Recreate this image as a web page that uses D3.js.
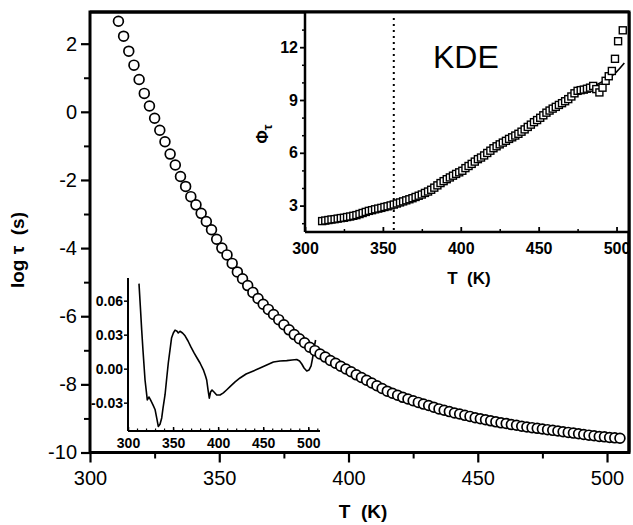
<!DOCTYPE html>
<html><head><meta charset="utf-8">
<script src="https://cdn.jsdelivr.net/npm/d3@7"></script>
<style>body{margin:0;background:#fff}svg{display:block}text{font-family:"Liberation Sans",Arial,sans-serif;fill:#000}</style>
</head><body>
<svg id="c" width="633" height="525"></svg>
<script>
// ---- main series: log tau vs T ----
const mainT = [311,313,315,317,319,321,323,325,327,329,331,333,335,337,339,341,343,345,347,349,351,353,355,357,359,361,363,365,367,369,371,373,375,377,379,381,383,385,387,389,391,393,395,397,399,401,403,405,407,409,411,413,415,417,419,421,423,425,427,429,431,433,435,437,439,441,443,445,447,449,451,453,455,457,459,461,463,465,467,469,471,473,475,477,479,481,483,485,487,489,491,493,495,497,499,501,503,505];
const mainLogTau = [2.66,2.22,1.78,1.37,0.95,0.54,0.17,-0.19,-0.54,-0.88,-1.24,-1.56,-1.90,-2.19,-2.49,-2.73,-2.98,-3.22,-3.46,-3.74,-4.00,-4.20,-4.45,-4.70,-4.90,-5.10,-5.30,-5.48,-5.65,-5.80,-5.95,-6.10,-6.25,-6.40,-6.54,-6.66,-6.78,-6.91,-7.01,-7.11,-7.20,-7.30,-7.38,-7.47,-7.55,-7.63,-7.72,-7.80,-7.88,-7.96,-8.04,-8.12,-8.20,-8.26,-8.32,-8.38,-8.43,-8.48,-8.53,-8.58,-8.62,-8.67,-8.72,-8.76,-8.80,-8.84,-8.87,-8.91,-8.94,-8.98,-9.01,-9.04,-9.07,-9.10,-9.13,-9.15,-9.18,-9.20,-9.23,-9.25,-9.27,-9.29,-9.31,-9.33,-9.35,-9.37,-9.39,-9.41,-9.43,-9.45,-9.47,-9.49,-9.51,-9.53,-9.54,-9.56,-9.57,-9.58];
const mainXTicks = [300,350,400,450,500];
const mainXTickLabels = ["300","350","400","450","500"];
const mainYTicks = [-10,-8,-6,-4,-2,0,2];
const mainYTickLabels = ["-10","-8","-6","-4","-2","0","2"];

// ---- inset 1 (KDE): Phi_tau vs T ----
const phiT = [311,313,315,317,319,321,323,325,327,329,331,333,335,337,339,341,343,345,347,349,351,353,355,357,359,361,363,365,367,369,371,373,375,377,379,381,383,385,387,389,391,393,395,397,399,401,403,405,407,409,411,413,415,417,419,421,423,425,427,429,431,433,435,437,439,441,443,445,447,449,451,453,455,457,459,461,463,465,467,469,471,473,475,477,479,481,483,485,487,489,491,493,495,497,499,501,504];
const phiVals = [2.12,2.15,2.18,2.21,2.23,2.26,2.29,2.31,2.35,2.38,2.42,2.46,2.52,2.58,2.64,2.70,2.74,2.79,2.83,2.87,2.92,2.96,3.01,3.06,3.12,3.18,3.24,3.30,3.36,3.42,3.49,3.56,3.63,3.72,3.80,3.90,4.02,4.15,4.28,4.39,4.50,4.60,4.70,4.80,4.89,4.98,5.13,5.25,5.37,5.50,5.64,5.73,5.85,5.99,6.12,6.26,6.37,6.48,6.58,6.68,6.79,6.88,6.98,7.08,7.20,7.33,7.47,7.60,7.74,7.86,7.99,8.13,8.28,8.40,8.51,8.61,8.72,8.82,8.93,9.05,9.20,9.38,9.52,9.56,9.59,9.64,9.70,9.80,9.62,9.43,9.70,10.09,10.35,10.65,11.34,12.34,12.96];
const fitT = [310,320,330,340,350,360,370,380,390,400,410,420,430,440,450,460,470,480,490,500,505];
const fitPhi = [2.10,2.25,2.42,2.64,2.90,3.15,3.45,3.85,4.35,4.90,5.55,6.15,6.75,7.30,7.95,8.55,9.10,9.55,10.00,10.60,11.10];
const markerT = 357;
const in1XTicks = [300,350,400,450,500];
const in1XTickLabels = ["300","350","400","450","500"];
const in1YTicks = [3,6,9,12];
const in1YTickLabels = ["3","6","9","12"];

// ---- inset 2: residual vs T ----
const resT = [312.2,313.9,315.2,316.6,318.9,321.4,323.3,325.0,327.7,330.0,332.2,333.6,335.5,337.4,338.8,341.1,343.0,344.7,346.6,348.3,350.3,352.2,354.4,355.8,357.7,360.5,363.3,366.6,369.9,373.3,376.6,379.9,383.6,386.0,387.3,388.8,390.2,391.6,393.2,395.4,398.4,402.1,405.8,409.3,413.2,418.8,424.3,431.0,439.1,446.5,453.9,461.3,468.7,476.1,482.0,487.2,490.3,492.8,495.3,498.3,500.9,503.1,504.8,506.4,508.1];
const resVals = [0.075,0.052,0.034,0.0165,-0.010,-0.0276,-0.025,-0.0276,-0.032,-0.036,-0.045,-0.051,-0.049,-0.0435,-0.035,-0.023,-0.008,0.005,0.0165,0.027,0.0315,0.034,0.033,0.0315,0.033,0.0315,0.029,0.0244,0.019,0.0139,0.0094,0.005,-0.001,-0.0064,-0.010,-0.0188,-0.026,-0.0206,-0.0188,-0.0206,-0.0232,-0.0232,-0.0214,-0.0188,-0.0159,-0.0117,-0.0082,-0.0047,-0.002,0.0006,0.0033,0.0059,0.0068,0.0071,0.0077,0.0081,0.0068,0.0041,0.0006,-0.002,-0.0011,0.0024,0.0094,0.018,0.0253];
const in2XTicks = [300,350,400,450,500];
const in2XTickLabels = ["300","350","400","450","500"];
const in2YTicks = [-0.03,0,0.03,0.06];
const in2YTickLabels = ["-0.03","0.00","0.03","0.06"];

const svg = d3.select("#c");
svg.append("rect").attr("width",633).attr("height",525).attr("fill","#fff");

function styleAxis(g, sw, fs, fw){
  g.select(".domain").remove();
  g.selectAll(".tick line").attr("stroke","#000").attr("stroke-width",sw);
  g.selectAll(".tick text").attr("font-size",fs).attr("font-weight",fw)
    .attr("font-family","'Liberation Sans',Arial,sans-serif").attr("fill","#000");
}
function lab(ticks, labels){ return d => labels[ticks.indexOf(d)]; }

// ================= MAIN =================
const x = d3.scaleLinear().domain([300,508.5]).range([90,629]);
const y = d3.scaleLinear().domain([-10,2.93]).range([452.5,12]);

const gxm = svg.append("g").attr("transform","translate(0,452.5)")
  .call(d3.axisBottom(x).tickValues([325,375,425,475]).tickSize(6).tickFormat(""));
styleAxis(gxm,2,0,"normal");
const gx = svg.append("g").attr("transform","translate(0,452.5)")
  .call(d3.axisBottom(x).tickValues(mainXTicks).tickSize(10).tickPadding(8).tickFormat(lab(mainXTicks,mainXTickLabels)));
styleAxis(gx,2.2,20,"normal");
const gym = svg.append("g").attr("transform","translate(90,0)")
  .call(d3.axisLeft(y).tickValues([-9,-7,-5,-3,-1,1]).tickSize(6).tickFormat(""));
styleAxis(gym,2,0,"normal");
const gy = svg.append("g").attr("transform","translate(90,0)")
  .call(d3.axisLeft(y).tickValues(mainYTicks).tickSize(9).tickPadding(4).tickFormat(lab(mainYTicks,mainYTickLabels)));
styleAxis(gy,2.2,20,"normal");

svg.append("rect").attr("x",90).attr("y",12).attr("width",539).attr("height",440.5)
  .attr("fill","none").attr("stroke","#000").attr("stroke-width",3);

svg.append("text").attr("x",363).attr("y",518).attr("text-anchor","middle")
  .attr("font-size",19).attr("font-weight","bold").attr("xml:space","preserve").text("T  (K)");
svg.append("text").attr("transform","translate(24,250) rotate(-90)").attr("text-anchor","middle")
  .attr("font-size",19).attr("font-weight","bold").attr("xml:space","preserve").text("log \u03C4  (s)");

// ================= INSET 2 (residual) =================
const x2 = d3.scaleLinear().domain([300,513]).range([128,320]);
const y2 = d3.scaleLinear().domain([-0.055,0.08]).range([431,278]);
const g2xm = svg.append("g").attr("transform","translate(0,431)")
  .call(d3.axisBottom(x2).tickValues(d3.range(310,511,10)).tickSize(-2.5).tickFormat(""));
styleAxis(g2xm,1.2,0,"normal");
const g2x = svg.append("g").attr("transform","translate(0,431)")
  .call(d3.axisBottom(x2).tickValues(in2XTicks).tickSize(-4).tickPadding(7).tickFormat(lab(in2XTicks,in2XTickLabels)));
styleAxis(g2x,1.5,14,"bold");
const g2y = svg.append("g").attr("transform","translate(128,0)")
  .call(d3.axisLeft(y2).tickValues(in2YTicks).tickSize(4).tickPadding(1).tickFormat(lab(in2YTicks,in2YTickLabels)));
styleAxis(g2y,1.5,14,"bold");
svg.append("line").attr("x1",128).attr("x2",128).attr("y1",278).attr("y2",431).attr("stroke","#000").attr("stroke-width",2);
svg.append("line").attr("x1",128).attr("x2",320).attr("y1",431).attr("y2",431).attr("stroke","#000").attr("stroke-width",2);
svg.append("path").datum(resT.map((t,i)=>[t,resVals[i]]))
  .attr("fill","none").attr("stroke","#000").attr("stroke-width",1.6).attr("stroke-linejoin","round")
  .attr("d", d3.line().x(d=>x2(d[0])).y(d=>y2(d[1])));

// main circles
svg.append("g").selectAll("circle").data(mainT.map((t,i)=>[t,mainLogTau[i]])).join("circle")
  .attr("cx",d=>x(d[0])).attr("cy",d=>y(d[1])).attr("r",4.9)
  .attr("fill","#fff").attr("stroke","#000").attr("stroke-width",1.7);

// ================= INSET 1 (KDE) =================
const x1 = d3.scaleLinear().domain([300,508]).range([305,629]);
const y1 = d3.scaleLinear().domain([1.5,14]).range([232,12]);
svg.append("rect").attr("x",305).attr("y",12).attr("width",324).attr("height",220).attr("fill","#fff");
const g1xm = svg.append("g").attr("transform","translate(0,232)")
  .call(d3.axisBottom(x1).tickValues([325,375,425,475]).tickSize(-3).tickFormat(""));
styleAxis(g1xm,1.5,0,"normal");
const g1x = svg.append("g").attr("transform","translate(0,232)")
  .call(d3.axisBottom(x1).tickValues(in1XTicks).tickSize(-5).tickPadding(11).tickFormat(lab(in1XTicks,in1XTickLabels)));
styleAxis(g1x,1.8,16,"bold");
const g1ym = svg.append("g").attr("transform","translate(305,0)")
  .call(d3.axisLeft(y1).tickValues([2,4,5,7,8,10,11,13]).tickSize(3).tickFormat(""));
styleAxis(g1ym,1.5,0,"normal");
const g1y = svg.append("g").attr("transform","translate(305,0)")
  .call(d3.axisLeft(y1).tickValues(in1YTicks).tickSize(5).tickPadding(2).tickFormat(lab(in1YTicks,in1YTickLabels)));
styleAxis(g1y,1.8,16,"bold");
svg.append("line").attr("x1",305).attr("x2",305).attr("y1",12).attr("y2",232).attr("stroke","#000").attr("stroke-width",2.5);
svg.append("line").attr("x1",305).attr("x2",629).attr("y1",232).attr("y2",232).attr("stroke","#000").attr("stroke-width",2.5);
svg.append("line").attr("x1",90).attr("x2",629).attr("y1",12).attr("y2",12).attr("stroke","#000").attr("stroke-width",3);
svg.append("line").attr("x1",629).attr("x2",629).attr("y1",12).attr("y2",452.5).attr("stroke","#000").attr("stroke-width",3);

svg.append("line").attr("x1",x1(markerT)).attr("x2",x1(markerT)).attr("y1",18).attr("y2",232)
  .attr("stroke","#000").attr("stroke-width",2).attr("stroke-dasharray","2,4");

svg.append("path").datum(fitT.map((t,i)=>[t,fitPhi[i]]))
  .attr("fill","none").attr("stroke","#000").attr("stroke-width",1.6)
  .attr("d", d3.line().curve(d3.curveMonotoneX).x(d=>x1(d[0])).y(d=>y1(d[1])));
const sq = 7;
svg.append("g").selectAll("rect").data(phiT.map((t,i)=>[t,phiVals[i]])).join("rect")
  .attr("x",d=>x1(d[0])-sq/2).attr("y",d=>y1(d[1])-sq/2).attr("width",sq).attr("height",sq)
  .attr("fill","#fff").attr("stroke","#000").attr("stroke-width",1.4);

svg.append("text").attr("x",433).attr("y",68).attr("font-size",32).text("KDE");
svg.append("text").attr("x",469).attr("y",284).attr("text-anchor","middle")
  .attr("font-size",17).attr("font-weight","bold").attr("xml:space","preserve").text("T  (K)");
const phiLab = svg.append("text").attr("transform","translate(268,134) rotate(-90)").attr("text-anchor","middle")
  .attr("font-size",16).attr("font-weight","bold");
phiLab.append("tspan").text("\u03A6");
phiLab.append("tspan").attr("font-size",13).attr("dy",4).text("\u03C4");
</script>
</body></html>
